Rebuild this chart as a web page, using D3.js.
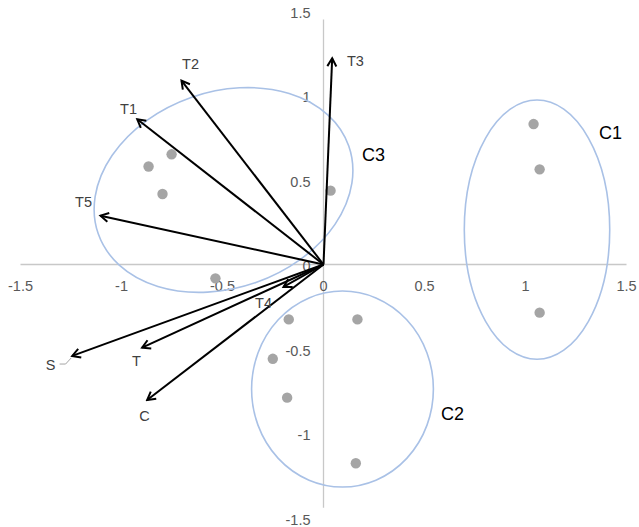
<!DOCTYPE html>
<html><head><meta charset="utf-8">
<script src="https://cdn.jsdelivr.net/npm/d3@7"></script>
<style>body{margin:0;background:#fff}svg{display:block}</style>
</head><body><svg id="c" width="639" height="527"></svg>
<script>
// ---- data ----
const xTicks = [-1.5,-1,-0.5,0,0.5,1,1.5];
const yTicks = [-1.5,-1,-0.5,0,0.5,1,1.5];
const tickFmt = d => d===0 ? "0" : String(d);

// score points (grey dots)
const pointX = [1.04, 1.07, 1.07, -0.172, 0.168, -0.251, -0.180, 0.160, -0.752, -0.866, -0.797, 0.035, -0.535];
const pointY = [0.831, 0.563, -0.285, -0.325, -0.325, -0.558, -0.788, -1.176, 0.652, 0.580, 0.417, 0.437, -0.082];

// loading vectors
const vecNames = ["T3","T2","T1","T5","T4","S","T","C"];
const vecX = [0.043, -0.703, -0.922, -1.104, -0.198, -1.244, -0.898, -0.873];
const vecY = [1.220, 1.088, 0.859, 0.289, -0.133, -0.541, -0.492, -0.802];
const vecLabelX = [0.158, -0.658, -0.965, -1.188, -0.297, -1.351, -0.926, -0.886];
const vecLabelY = [1.21, 1.192, 0.926, 0.37, -0.222, -0.589, -0.571, -0.891];

// cluster ellipses
const clusterNames = ["C1","C2","C3"];
const clusterCX = [1.057, 0.094, -0.495];
const clusterCY = [0.206, -0.737, 0.441];
const clusterRX = [0.36, 0.45, 0.657];
const clusterRY = [0.767, 0.58, 0.58];
const clusterRot = [0, 0, -19.3];
const clusterLabelX = [1.421, 0.639, 0.248];
const clusterLabelY = [0.784, -0.879, 0.648];

// ---- drawing ----
const svg = d3.select("#c");
const x = d3.scaleLinear().domain([-1.5,1.5]).range([20.5,626.5]);
const y = d3.scaleLinear().domain([-1.5,1.5]).range([264.5+1.5*169, 264.5-1.5*169]);

const axisColor = "#c8c8c8";
const tickColor = "#595959";
const font = "'Liberation Sans', Arial, sans-serif";

// horizontal axis
svg.append("line").attr("x1",x(-1.5)).attr("x2",x(1.5)).attr("y1",y(0)).attr("y2",y(0))
  .attr("stroke",axisColor).attr("stroke-width",1.3);
// vertical axis
svg.append("line").attr("x1",x(0)).attr("x2",x(0)).attr("y1",y(1.45)).attr("y2",y(-1.44))
  .attr("stroke",axisColor).attr("stroke-width",1.3);

// x tick labels
svg.append("g").selectAll("text").data(xTicks).join("text")
  .attr("x",d=>x(d)).attr("y",y(0)+26).attr("text-anchor","middle")
  .attr("font-family",font).attr("font-size",14.5).attr("fill",tickColor).text(tickFmt);
// y tick labels
svg.append("g").selectAll("text").data(yTicks).join("text")
  .attr("x",x(0)-13).attr("y",d=>y(d)+6.5).attr("text-anchor","end")
  .attr("font-family",font).attr("font-size",14.5).attr("fill",tickColor).text(tickFmt);

// ellipses
const ell = clusterNames.map((n,i)=>({n, cx:clusterCX[i], cy:clusterCY[i], rx:clusterRX[i], ry:clusterRY[i], rot:clusterRot[i], lx:clusterLabelX[i], ly:clusterLabelY[i]}));
svg.append("g").selectAll("ellipse").data(ell).join("ellipse")
  .attr("transform",d=>`translate(${x(d.cx)},${y(d.cy)}) rotate(${d.rot})`)
  .attr("rx",d=>x(d.rx)-x(0)).attr("ry",d=>y(0)-y(d.ry))
  .attr("fill","none").attr("stroke","#a9c1e6").attr("stroke-width",1.6);

// points
const pts = pointX.map((v,i)=>({x:v,y:pointY[i]}));
svg.append("g").selectAll("circle").data(pts).join("circle")
  .attr("cx",d=>x(d.x)).attr("cy",d=>y(d.y)).attr("r",5.2).attr("fill","#a5a5a5");

// arrow marker
svg.append("defs").append("marker").attr("id","arr")
  .attr("viewBox","-10 -6 12 12").attr("refX",0).attr("refY",0)
  .attr("markerWidth",12).attr("markerHeight",12).attr("markerUnits","userSpaceOnUse")
  .attr("orient","auto")
  .append("path").attr("d","M-8,-4.5 L0,0 L-8,4.5").attr("fill","none")
  .attr("stroke","#000").attr("stroke-width",2);

const vecs = vecNames.map((n,i)=>({n, x:vecX[i], y:vecY[i], lx:vecLabelX[i], ly:vecLabelY[i]}));
svg.append("g").selectAll("line").data(vecs).join("line")
  .attr("x1",x(0)).attr("y1",y(0)).attr("x2",d=>x(d.x)).attr("y2",d=>y(d.y))
  .attr("stroke","#000").attr("stroke-width",2).attr("marker-end","url(#arr)");

// leader line for S
const sv = vecs.find(d=>d.n==="S");
svg.append("path")
  .attr("d",`M${x(sv.lx)+9},${y(sv.ly)} L${x(sv.lx)+15},${y(sv.ly)} L${x(sv.x)-1},${y(sv.y)+2}`)
  .attr("fill","none").attr("stroke","#a5a5a5").attr("stroke-width",1);

// vector labels
svg.append("g").selectAll("text").data(vecs).join("text")
  .attr("x",d=>x(d.lx)).attr("y",d=>y(d.ly)+5.5).attr("text-anchor","middle")
  .attr("font-family",font).attr("font-size",14.5).attr("fill","#404040").text(d=>d.n);

// cluster labels
svg.append("g").selectAll("text").data(ell).join("text")
  .attr("x",d=>x(d.lx)).attr("y",d=>y(d.ly)+6.5).attr("text-anchor","middle")
  .attr("font-family",font).attr("font-size",18).attr("fill","#000").text(d=>d.n);
</script>
</body></html>
